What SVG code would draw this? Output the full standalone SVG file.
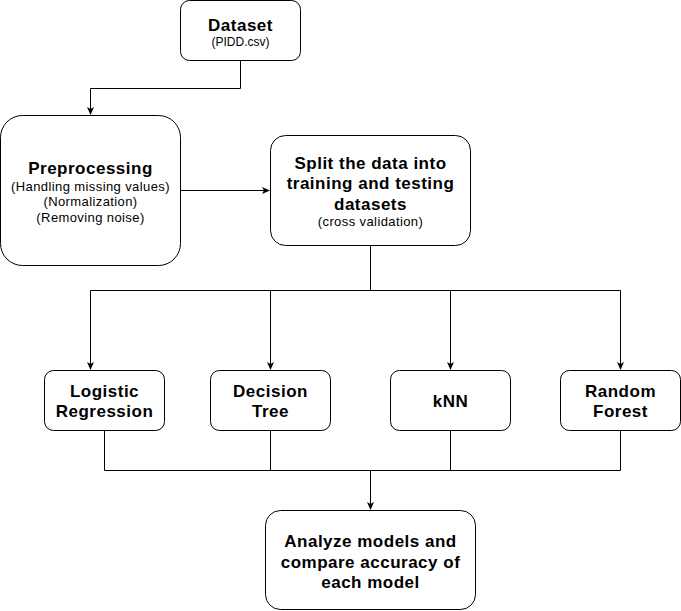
<svg xmlns="http://www.w3.org/2000/svg" width="681" height="611" viewBox="0 0 681 611">
<style>
.box{fill:#fff;stroke:#000;stroke-width:1}
.t{font-family:"Liberation Sans",Arial,Helvetica,sans-serif;fill:#000;text-anchor:middle}
.b{font-weight:bold;font-size:17px;letter-spacing:0.5px}
.s{font-size:13px;letter-spacing:0.4px}
.xs{font-size:12px}
.c{fill:none;stroke:#000;stroke-width:1}
</style>
<defs>
<marker id="arr" markerWidth="8" markerHeight="8" viewBox="0 0 8 8" refX="7" refY="4" orient="auto" markerUnits="userSpaceOnUse">
<path d="M0,0.5 L8,4 L0,7.5 L2,4 Z" fill="#000"/>
</marker>
</defs>
<rect width="681" height="611" fill="#fff"/>
<g id="connectors">
<path class="c" d="M240.5,60.5 V88.5 H90.5 V114" marker-end="url(#arr)"/>
<path class="c" d="M180.5,190.5 H269" marker-end="url(#arr)"/>
<path class="c" d="M370.5,245.5 V290.5"/>
<path class="c" d="M90.5,290.5 H620.5"/>
<path class="c" d="M90.5,290.5 V369" marker-end="url(#arr)"/>
<path class="c" d="M270.5,290.5 V369" marker-end="url(#arr)"/>
<path class="c" d="M450.5,290.5 V369" marker-end="url(#arr)"/>
<path class="c" d="M620.5,290.5 V369" marker-end="url(#arr)"/>
<path class="c" d="M104.5,430.5 V470.5 H620.5 V430.5"/>
<path class="c" d="M270.5,430.5 V470.5"/>
<path class="c" d="M450.5,430.5 V470.5"/>
<path class="c" d="M370.5,470.5 V509" marker-end="url(#arr)"/>
</g>
<g id="dataset">
<rect class="box" x="180.5" y="0.5" width="120" height="60" rx="9"/>
<text class="t b" x="240.5" y="30.5">Dataset</text>
<text class="t xs" x="240.5" y="46">(PIDD.csv)</text>
</g>
<g id="preprocessing">
<rect class="box" x="0.5" y="115.5" width="180" height="150" rx="22"/>
<text class="t b" x="90.5" y="174">Preprocessing</text>
<text class="t s" x="90.5" y="190.5">(Handling missing values)</text>
<text class="t s" x="90.5" y="206">(Normalization)</text>
<text class="t s" x="90.5" y="222">(Removing noise)</text>
</g>
<g id="split">
<rect class="box" x="270.5" y="135.5" width="200" height="110" rx="15"/>
<text class="t b" x="370.5" y="168.5">Split the data into</text>
<text class="t b" x="370.5" y="189">training and testing</text>
<text class="t b" x="370.5" y="209.5">datasets</text>
<text class="t s" x="370.5" y="226">(cross validation)</text>
</g>
<g id="logistic">
<rect class="box" x="44.5" y="370.5" width="120" height="60" rx="9"/>
<text class="t b" x="104.5" y="396.5">Logistic</text>
<text class="t b" x="104.5" y="417">Regression</text>
</g>
<g id="decision">
<rect class="box" x="210.5" y="370.5" width="120" height="60" rx="9"/>
<text class="t b" x="270.5" y="396.5">Decision</text>
<text class="t b" x="270.5" y="417">Tree</text>
</g>
<g id="knn">
<rect class="box" x="390.5" y="370.5" width="120" height="60" rx="9"/>
<text class="t b" x="450.5" y="406.5">kNN</text>
</g>
<g id="forest">
<rect class="box" x="560.5" y="370.5" width="120" height="60" rx="9"/>
<text class="t b" x="620.5" y="396.5">Random</text>
<text class="t b" x="620.5" y="417">Forest</text>
</g>
<g id="analyze">
<rect class="box" x="265.5" y="510.5" width="210" height="99" rx="15"/>
<text class="t b" x="370.5" y="547">Analyze models and</text>
<text class="t b" x="370.5" y="567.5">compare accuracy of</text>
<text class="t b" x="370.5" y="588">each model</text>
</g>
</svg>
